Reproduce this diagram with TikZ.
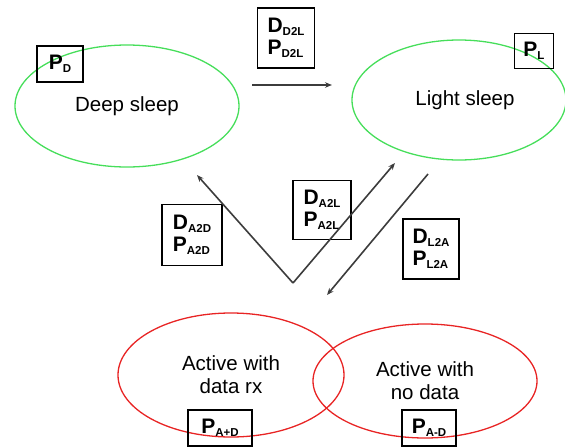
\documentclass[tikz,border=0pt]{standalone}
\usepackage{fontspec}
\setmainfont{Liberation Sans}
\usetikzlibrary{arrows.meta,shapes.geometric}
\definecolor{sleepgreen}{RGB}{70,222,90}
\definecolor{activered}{RGB}{232,36,36}
\definecolor{wire}{RGB}{60,60,60}
\newcommand{\lowidx}[1]{\raisebox{-3.5pt}{\fontsize{11.5}{11.5}\selectfont #1}}

\begin{document}
\begin{tikzpicture}[x=1pt,y=-1pt,
  state/.style={ellipse, draw, line width=1.3pt, inner sep=0pt, align=center, font=\fontsize{20.5}{23}\selectfont},
  param/.style={draw, line width=1.4pt, inner sep=0pt, align=left, font=\fontsize{21}{22}\selectfont\bfseries},
  move/.style={wire, line width=1.6pt, -{Stealth[length=7pt,width=5.5pt]}}]
\useasboundingbox (0,0) rectangle (565,447);
\node[state, sleepgreen, text=black, minimum width=224pt, minimum height=122pt] (deep) at (127,106) {Deep sleep};
\node[state, sleepgreen, text=black, minimum width=214pt, minimum height=120pt] (light) at (459,100) {\hspace{12pt}Light sleep};
\node[state, activered, text=black, minimum width=226pt, minimum height=124pt] (datarx) at (231,375) {Active with\\data rx};
\node[state, activered, text=black, minimum width=224pt, minimum height=114pt] (nodata) at (425,381) {Active with\\no data};
\node[param, minimum width=46pt, minimum height=36pt] (pd) at (60,64) {P\lowidx{D}};
\node[param, minimum width=39pt, minimum height=35pt] (pl) at (534,51) {P\lowidx{L}};
\node[param, minimum width=57pt, minimum height=60pt] (dtol) at (286,38) {D\lowidx{D2L}\\P\lowidx{D2L}};
\node[param, minimum width=60pt, minimum height=61pt] (atod) at (192,235) {D\lowidx{A2D}\\P\lowidx{A2D}};
\node[param, minimum width=58pt, minimum height=59pt] (atol) at (322,210) {D\lowidx{A2L}\\P\lowidx{A2L}};
\node[param, minimum width=56pt, minimum height=60pt] (ltoa) at (431,249) {D\lowidx{L2A}\\P\lowidx{L2A}};
\node[param, minimum width=64pt, minimum height=36pt] (pad) at (220,428) {P\lowidx{A+D}};
\node[param, minimum width=54pt, minimum height=36pt] (pand) at (429,428) {P\lowidx{A-D}};
\coordinate (dls) at (252,85);
\coordinate (dle) at (332,85);
\coordinate (vtip) at (293,283);
\coordinate (adend) at (197,175);
\coordinate (alend) at (395,163);
\coordinate (las) at (428,174);
\coordinate (lae) at (327,295);
\draw[move] (dls) -- (dle);
\draw[move] (vtip) -- (adend);
\draw[move] (vtip) -- (alend);
\draw[move] (las) -- (lae);
\end{tikzpicture}
\end{document}
